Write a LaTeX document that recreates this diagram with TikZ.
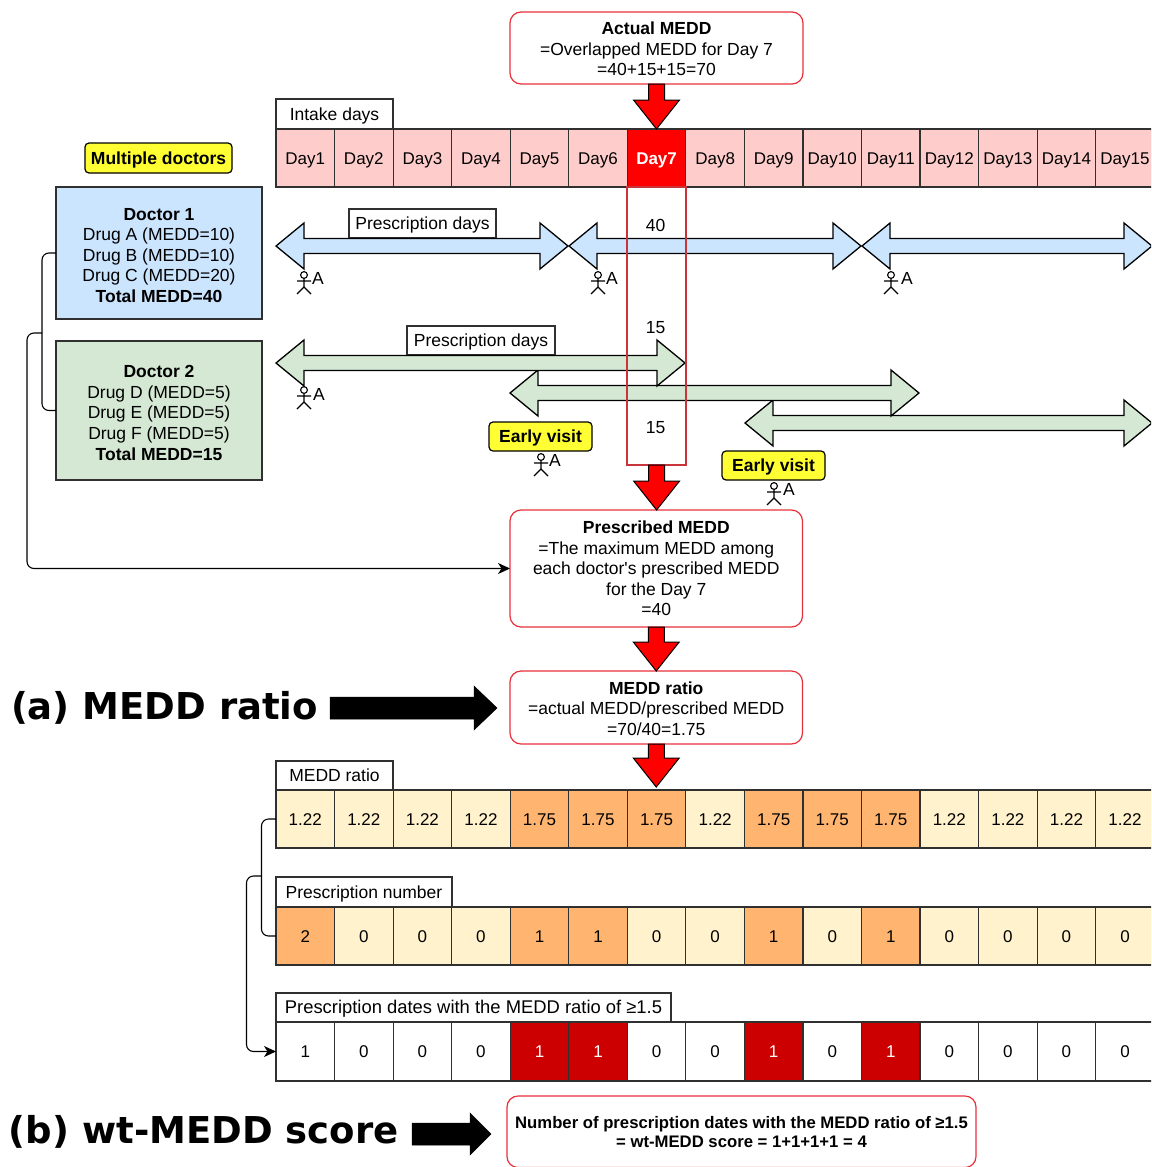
\documentclass[tikz,border=0pt]{standalone}
\usepackage{fontspec}
\setmainfont{Liberation Sans}
\newfontfamily\dvfont{DejaVu Sans}
\usetikzlibrary{calc,arrows.meta}
\definecolor{pinkc}{HTML}{FFCCCC}
\definecolor{creamc}{HTML}{FFF2CC}
\definecolor{orangec}{HTML}{FFB570}
\definecolor{darkredc}{HTML}{CC0000}
\definecolor{bluec}{HTML}{CCE5FF}
\definecolor{greenc}{HTML}{D5E8D4}
\definecolor{yellowc}{HTML}{FFFF33}
\definecolor{rimred}{HTML}{E8303A}
\definecolor{colred}{HTML}{C8343A}
\definecolor{gridc}{HTML}{303030}
\newcommand\bodyfont{\fontsize{17.5}{20.6}\selectfont}
\newcommand\cellfont{\fontsize{17}{20.6}\selectfont}
\newcommand\lowerA{\rule{0pt}{14.8pt}}
\newcommand\lowerB{\rule{0pt}{16.8pt}}
\tikzset{
  x=1pt,y=-1pt,
  base/.style={inner sep=0pt,outer sep=0pt,align=center,font=\bodyfont,line width=1.2pt},
  oneline/.style={text height=12.4pt,text depth=0pt},
  cellbase/.style={base,oneline,font=\cellfont,draw=gridc,minimum width=58.55pt},
  cpink/.style={fill=pinkc},
  cred/.style={fill=red,text=white,font=\cellfont\bfseries},
  ccream/.style={fill=creamc},
  corange/.style={fill=orangec},
  cwhite/.style={fill=white},
  cdark/.style={fill=darkredc,text=white},
  labelbox/.style={base,oneline,draw=gridc,fill=white},
  redround/.style={base,draw=rimred,fill=white,rounded corners=11pt},
  yellowbox/.style={base,oneline,draw=black,fill=yellowc,rounded corners=4pt,font=\bodyfont\bfseries},
  docbox/.style={base,draw=gridc,line width=1.5pt},
  plain/.style={base},
  dblarrow/.style={draw=black,line width=1.3pt,line join=miter},
  redarr/.style={draw=black,fill=red,line width=1pt},
  blackarr/.style={fill=black,draw=black,line width=.5pt},
  link/.style={draw=black,line width=1.1pt,rounded corners=7pt},
  linkarrow/.style={link,-{Stealth[length=12pt,width=11pt,inset=3.5pt]}},
  stickline/.style={draw=black,line width=1.1pt},
}
% name, x0, y0, x1, y1, style, text
\newcommand\bx[7]{\node[#6,minimum width={(#4-#2)*1pt},minimum height={(#5-#3)*1pt}] (#1) at ({(#2+#4)/2},{(#3+#5)/2}) {#7};}
% row of cells: prefix, y0, y1, list of i/value/style
\newcommand\cellrow[4]{\foreach \i/\v/\s in {#4}{\node[cellbase,\s,minimum height={(#3-#2)*1pt}] (#1\i) at ({276+58.55*(\i-0.5)},{(#2+#3)/2}) {\v};}}
% double arrow: x0, x1, yc, fill
\newcommand\twoway[4]{\draw[dblarrow,fill=#4] (#1,#3) -- (#1+28,#3-23) -- (#1+28,#3-7.5) -- (#2-28,#3-7.5) -- (#2-28,#3-23) -- (#2,#3) -- (#2-28,#3+23) -- (#2-28,#3+7.5) -- (#1+28,#3+7.5) -- (#1+28,#3+23) -- cycle;}
% red down arrow between named points
\newcommand\redarrow[2]{\draw[redarr] let \p1=(#1),\p2=(#2) in (\x1-8pt,\y1) -- (\x1+8pt,\y1) -- (\x1+8pt,\y2+29pt) -- (\x1+23pt,\y2+29pt) -- (\x1,\y2) -- (\x1-23pt,\y2+29pt) -- (\x1-8pt,\y2+29pt) -- cycle;}
% black right arrow between named points: head length, shaft half, head half
\newcommand\blackarrow[5]{\path[blackarr] let \p1=(#1),\p2=(#2) in (\x1,\y1+#4) -- (\x2-#3,\y1+#4) -- (\x2-#3,\y1+#5) -- (\x2,\y1) -- (\x2-#3,\y1-#5) -- (\x2-#3,\y1-#4) -- (\x1,\y1-#4) -- cycle;}
% stick figure: name, head x, head y, A x, A y
\newcommand\stick[5]{\begin{scope}[shift={(#2,#3)}]
\draw[stickline] (0,0) circle[radius=3.4pt];
\draw[stickline] (0,3.4) -- (0,12) (-7,6) -- (7,6) (-7,19) -- (0,12) -- (7,19);
\end{scope}
\node[plain] (#1) at (#4,#5) {A};}
\begin{document}
\begin{tikzpicture}
\clip (0,0) rectangle (1151,1167);
% top box
\bx{actual}{510}{12}{803}{84}{redround}{\lowerA\textbf{Actual MEDD}\\=Overlapped MEDD for Day 7\\=40+15+15=70}
% intake days
\bx{intake}{276}{99}{393}{129}{labelbox}{Intake days}
\cellrow{day}{129}{187}{1/Day1/cpink,2/Day2/cpink,3/Day3/cpink,4/Day4/cpink,5/Day5/cpink,6/Day6/cpink,7/Day7/cred,8/Day8/cpink,9/Day9/cpink,10/Day10/cpink,11/Day11/cpink,12/Day12/cpink,13/Day13/cpink,14/Day14/cpink,15/Day15/cpink}
\bx{multi}{85}{143}{232}{173}{yellowbox}{Multiple doctors}
% doctors
\bx{docone}{56}{187}{262}{319}{docbox,fill=bluec}{\lowerB\textbf{Doctor 1}\\Drug A (MEDD=10)\\Drug B (MEDD=10)\\Drug C (MEDD=20)\\\textbf{Total MEDD=40}}
\bx{doctwo}{56}{341}{262}{480}{docbox,fill=greenc}{\lowerB\textbf{Doctor 2}\\Drug D (MEDD=5)\\Drug E (MEDD=5)\\Drug F (MEDD=5)\\\textbf{Total MEDD=15}}
% prescription labels
\bx{presone}{349}{209}{496}{238}{labelbox}{Prescription days}
\bx{prestwo}{407}{326}{555}{355}{labelbox}{Prescription days}
% blue arrows
\twoway{276}{568}{246}{bluec}
\twoway{569}{861}{246}{bluec}
\twoway{862}{1152}{246}{bluec}
% green arrows
\twoway{745}{1152}{423}{greenc}
\twoway{510}{919}{393}{greenc}
\twoway{276}{685}{363}{greenc}
% sticks
\stick{aone}{304}{275}{318}{278}
\stick{atwo}{598}{275}{612}{278}
\stick{athree}{891}{275}{907}{278}
\stick{afour}{304}{390}{319}{394}
\stick{afive}{541}{457}{555}{460}
\stick{asix}{774}{486}{789}{489}
% early visits
\bx{earlyone}{489}{422}{592}{451}{yellowbox}{Early visit}
\bx{earlytwo}{722}{451}{825}{480}{yellowbox}{Early visit}
% highlight column
\bx{column}{627.2}{187}{686}{465}{base,draw=colred,line width=1.5pt}{}
\node[plain] (vone) at (655.5,225) {40};
\node[plain] (vtwo) at (655.5,328) {15};
\node[plain] (vthree) at (655.5,428) {15};
% middle boxes
\bx{pres}{510}{510}{802.5}{627}{redround}{\textbf{Prescribed MEDD}\\=The maximum MEDD among\\each doctor\textquotesingle s prescribed MEDD\\for the Day 7\\=40}
\bx{ratio}{510}{671}{802.5}{744}{redround}{\lowerA\textbf{MEDD ratio}\\=actual MEDD/prescribed MEDD\\=70/40=1.75}
% rows
\bx{ratiolabel}{276}{761}{393}{790}{labelbox}{MEDD ratio}
\cellrow{ra}{790}{848}{1/1.22/ccream,2/1.22/ccream,3/1.22/ccream,4/1.22/ccream,5/1.75/corange,6/1.75/corange,7/1.75/corange,8/1.22/ccream,9/1.75/corange,10/1.75/corange,11/1.75/corange,12/1.22/ccream,13/1.22/ccream,14/1.22/ccream,15/1.22/ccream}
\bx{numlabel}{276}{877}{452}{907}{labelbox}{Prescription number}
\cellrow{nu}{907}{965}{1/2/corange,2/0/ccream,3/0/ccream,4/0/ccream,5/1/corange,6/1/corange,7/0/ccream,8/0/ccream,9/1/corange,10/0/ccream,11/1/corange,12/0/ccream,13/0/ccream,14/0/ccream,15/0/ccream}
\bx{datelabel}{276}{993}{671}{1022}{labelbox,font=\fontsize{18.4}{22}\selectfont}{Prescription dates with the MEDD ratio of ≥1.5}
\cellrow{da}{1022}{1081}{1/1/cwhite,2/0/cwhite,3/0/cwhite,4/0/cwhite,5/1/cdark,6/1/cdark,7/0/cwhite,8/0/cwhite,9/1/cdark,10/0/cwhite,11/1/cdark,12/0/cwhite,13/0/cwhite,14/0/cwhite,15/0/cwhite}
\bx{score}{507}{1096}{976}{1167.5}{redround,font=\fontsize{16.7}{19}\selectfont\bfseries}{Number of prescription dates with the MEDD ratio of ≥1.5\\= wt-MEDD score = 1+1+1+1 = 4}
% red arrows
\redarrow{actual.south}{day7.north}
\redarrow{column.south}{pres.north}
\redarrow{pres.south}{ratio.north}
\redarrow{ratio.south}{$(ra7.north)+(0,-3)$}
% side links
\draw[link] (docone.west) -- (42,253) -- (42,410.5) -- (doctwo.west);
\coordinate (joinone) at (42,333);
\draw[linkarrow] (joinone) -- (27,333) -- (27,568.5) -- (pres.west);
\draw[link] (ra1.west) -- (261.5,819) -- (261.5,936) -- (nu1.west);
\coordinate (jointwo) at (261.5,876);
\draw[linkarrow] (jointwo) -- (246.5,876) -- (246.5,1051.5) -- (da1.west);
% captions
\node[plain,anchor=west,font=\fontsize{37}{41}\dvfont\bfseries] (capa) at (11,708) {(a) MEDD ratio};
\node[plain,anchor=west,font=\fontsize{37}{41}\dvfont\bfseries] (capb) at (9,1132) {(b) wt-MEDD score};
\coordinate (astart) at (330,708);
\coordinate (aend) at (497,708);
\blackarrow{astart}{aend}{23pt}{11pt}{22pt}
\coordinate (bstart) at (412,1134);
\coordinate (bend) at (491,1134);
\blackarrow{bstart}{bend}{21pt}{11pt}{21pt}
\end{tikzpicture}
\end{document}
